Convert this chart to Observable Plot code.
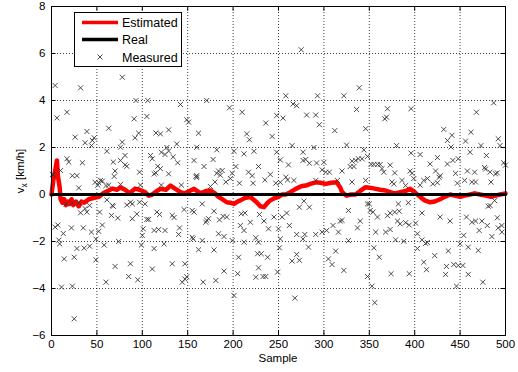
<!DOCTYPE html>
<html><head><meta charset="utf-8">
<script src="https://cdn.jsdelivr.net/npm/d3@7"></script>
<script src="https://cdn.jsdelivr.net/npm/@observablehq/plot@0.6"></script>
<style>body{margin:0;background:#fff} #chart svg{display:block}</style>
</head><body><div id="chart"></div>
<script>
// Measured samples (x = sample index, y = v_x in km/h)
const measuredX = [1,2,4,4,6,7,8,9,10,11,13,14,16,17,17,19,22,23,23,23,25,25,26,28,28,30,30,32,32,34,35,36,37,37,39,39,42,42,44,44,45,47,48,49,49,51,52,52,53,54,56,56,58,60,60,61,61,63,63,66,67,68,68,69,70,70,73,74,76,76,76,78,78,81,81,83,83,85,87,87,89,89,91,92,93,94,95,96,97,97,98,99,100,101,103,105,105,106,107,109,111,111,113,113,113,115,115,116,117,118,119,120,120,121,121,124,125,125,127,129,129,129,133,133,134,135,138,139,140,141,142,143,144,146,147,147,149,149,151,155,155,156,157,157,159,160,160,160,162,162,166,166,167,168,170,171,171,173,175,178,179,179,180,181,182,182,184,184,185,186,188,189,190,190,192,193,196,197,199,199,201,201,203,205,206,207,208,209,210,212,212,212,213,215,217,218,219,221,222,223,225,225,227,228,228,228,229,231,233,234,235,236,236,238,239,241,243,245,247,248,248,249,250,251,252,252,252,254,255,258,258,259,260,261,262,265,265,266,267,268,270,270,270,273,273,275,277,277,277,278,279,280,281,283,284,284,289,291,291,291,292,293,295,298,298,300,302,303,305,306,309,310,312,313,315,316,318,320,320,322,322,325,327,327,329,331,331,333,335,336,337,338,339,340,342,344,346,346,348,348,348,350,351,352,353,354,355,355,356,357,359,359,361,362,364,366,367,368,369,370,370,373,373,373,374,375,377,378,378,379,380,381,382,383,384,386,388,390,390,393,394,394,395,396,396,397,399,401,403,403,406,406,408,408,410,410,412,413,414,414,417,420,422,423,425,425,427,428,428,432,434,435,436,436,437,439,440,441,442,443,445,446,447,448,448,450,453,454,455,456,457,458,459,459,461,462,463,463,466,467,467,468,470,471,473,474,475,477,478,479,480,481,483,483,484,485,487,488,489,491,491,492,492,494,496,496,498,500];
const measuredY = [0.85,0.85,4.64,-1.39,3.26,-1.3,-1.94,-2.1,1.02,-3.94,-1.66,-2.74,-0.4,3.5,1.52,1.38,-1.42,0.8,-3.9,-0.37,-2.67,-5.29,2.44,0.8,-2.3,-0.35,0.28,4.54,-0.78,1.35,-1.42,-2.28,2.2,-0.6,2.68,-0.75,-2.2,-0.47,2.08,-1.6,2.3,2.41,0.52,-1.9,-2.78,0.4,0.5,-1.57,-0.75,0.6,-1.3,0.57,-2.15,0.38,-3.73,1.84,-0.23,2.82,0.4,-0.89,-0.47,1.38,-0.5,0.77,1.0,-3.06,-1.0,-2.0,1.45,2.01,0.43,4.99,2.23,1.66,1.26,1.2,-0.45,-3.49,-2.95,-0.33,-1.03,-0.4,3.22,2.41,4.0,-0.83,-3.63,2.61,0.95,-0.33,0.4,-2.15,-1.74,-1.46,-0.4,3.32,-1.06,4.0,-1.06,1.66,1.52,-3.17,-1.53,-2.3,0.88,2.62,0.92,-0.75,1.2,-1.49,-0.85,2.58,1.1,1.8,0.4,-2.1,1.7,-1.53,2.0,2.75,1.85,0.88,-2.95,-0.89,1.6,-0.98,2.15,1.35,-1.7,-1.42,3.83,0.4,-3.73,-0.64,-2.95,-3.6,3.18,-3.5,3.08,-1.82,-0.68,-1.89,1.45,-0.75,0.77,2.01,0.8,0.72,2.61,-2.35,-1.96,-0.4,-3.73,1.19,-1.18,-1.1,4.0,-1.03,0.34,1.49,-0.71,-2.36,0.53,-3.66,1.9,0.9,1.0,-1.67,-1.08,0.82,1.02,-0.93,-1.79,-3.26,0.53,-0.96,3.69,0.68,0.9,-1.96,1.84,-4.3,1.19,-3.37,-2.67,0.48,-1.32,-0.82,3.5,1.73,-1.53,-2.03,-0.79,2.58,0.95,2.33,-1.18,0.8,0.48,1.84,-1.84,-3.52,-2.52,1.19,-2.03,-3.12,-0.85,-2.52,-3.49,-1.13,0.62,3.04,-3.49,-2.67,-1.46,0.85,2.47,-0.96,0.48,3.36,1.8,-3.3,-1.46,-2.27,1.47,0.52,-1.89,-0.96,3.25,4.2,0.74,-0.79,0.62,1.26,-1.32,2.08,-2.83,3.85,0.6,-4.41,3.78,-1.7,-2.55,-0.54,-2.8,6.16,1.8,1.45,-1.89,-0.28,-1.7,1.49,3.38,-2.24,1.33,-0.54,2.0,3.38,-1.7,0.6,1.34,4.2,2.97,1.05,-1.6,1.37,0.95,-1.53,-2.74,0.95,-2.98,-1.32,2.72,-2.41,0.6,-1.6,-1.13,1.0,-1.1,4.2,-3.23,2.1,-0.68,-1.96,1.19,1.42,0.53,1.19,1.45,3.62,-1.42,1.52,4.54,-1.13,1.52,1.9,2.8,0.6,1.62,-0.4,-3.49,-0.4,-0.68,1.28,-3.9,-0.75,1.28,-2.27,-4.6,-1.6,1.28,-0.96,-2.67,1.28,1.1,0.95,3.22,-1.6,3.29,3.65,-0.9,1.25,-1.49,-0.79,-3.37,0.53,0.45,0.92,-0.75,-1.93,2.08,-1.13,-0.4,-0.71,-1.25,0.6,-1.99,0.38,-1.2,-0.35,-1.3,-3.37,1.0,3.65,1.76,0.9,0.68,-1.22,-1.67,-2.3,1.7,0.4,-0.79,-1.93,0.6,-2.88,-2.08,-3.2,0.68,-2.04,1.3,0.45,-2.6,1.0,1.57,0.5,0.73,0.8,-0.96,2.77,-3.4,-3.06,2.3,1.3,-2.4,-1.13,2.02,2.52,1.45,-2.98,0.9,-3.9,0.48,1.52,-3.02,-2.1,-3.02,-1.74,0.6,2.27,-0.96,1.0,-2.24,-3.4,1.8,2.65,0.53,-1.18,0.95,0.53,-1.13,3.5,-2.38,-1.53,2.08,-1.13,-3.73,1.15,1.08,1.66,-1.32,-0.5,0.95,-0.47,0.53,-1.79,3.9,-0.26,0.88,0.92,-0.99,2.37,-1.42,2.08,-1.32,-1.6,1.35,1.25];

// Estimated signal
const estimatedX = [0,2,4,6,7,9,10,12,14,16,18,20,22,24,27,30,33,36,41,46,52,57,62,67,72,76,81,86,92,97,103,107,111,116,120,126,131,136,142,147,152,157,164,170,175,180,184,188,193,197,201,205,208,213,219,222,226,230,234,238,241,246,250,254,258,263,269,275,280,285,291,296,302,308,314,318,320,325,330,335,340,346,352,357,362,368,373,378,384,390,395,400,406,411,417,422,428,433,439,444,450,455,461,466,472,478,484,489,494,500];
const estimatedY = [0,0.6,1.0,1.45,0.8,0.3,-0.2,-0.35,-0.2,-0.45,-0.3,-0.4,-0.2,-0.45,-0.3,-0.5,-0.3,-0.35,-0.2,-0.15,-0.1,0.05,0.15,0.25,0.2,0.3,0.2,0.05,0.25,0.2,0.1,-0.05,0,0.15,0.24,0.2,0.38,0.25,0.1,0.05,0.15,0.24,0.05,0.15,0.17,0.05,-0.1,-0.2,-0.33,-0.35,-0.4,-0.3,-0.25,-0.15,-0.1,-0.2,-0.33,-0.5,-0.54,-0.35,-0.25,-0.15,-0.1,0,0,0.1,0.24,0.35,0.38,0.45,0.52,0.5,0.45,0.5,0.52,0.3,0.1,-0.05,0,0,0.15,0.31,0.28,0.24,0.2,0.17,0.1,0.05,0.1,0.15,0.24,0.1,-0.1,-0.25,-0.33,-0.3,-0.2,-0.1,0,-0.05,-0.1,-0.05,0,0.05,0,-0.05,-0.1,-0.05,0,0.05];

// Real signal
const realX = [0, 500];
const realY = [0, 0];

const xTicks = [0,50,100,150,200,250,300,350,400,450,500];
const yTicks = [-6,-4,-2,0,2,4,6,8];
const seriesNames = ["Estimated","Real","Measured"];
const xLabel = "Sample";

const measured = measuredX.map((x,i)=>({x, y: measuredY[i]}));
const estimated = estimatedX.map((x,i)=>({x, y: estimatedY[i]}));
const real = realX.map((x,i)=>({x, y: realY[i]}));

const xDom = [xTicks[0], xTicks[xTicks.length-1]];
const yDom = [yTicks[0], yTicks[yTicks.length-1]];
const gridStyle = {stroke:"#000", strokeOpacity:0.75, strokeDasharray:"1,2"};
const plot = Plot.plot({
  width: 518, height: 372,
  marginLeft: 51, marginRight: 13, marginTop: 6, marginBottom: 37,
  style: {fontFamily: "'Liberation Sans', Arial, sans-serif", fontSize: "11.5px", background: "#fff", color: "#000"},
  x: {domain: xDom},
  y: {domain: yDom},
  marks: [
    Plot.gridX(xTicks, gridStyle),
    Plot.gridY(yTicks, gridStyle),
    Plot.line(estimated, {x:"x", y:"y", stroke:"#ff0000", strokeWidth:4.5, strokeLinejoin:"round"}),
    Plot.line(real, {x:"x", y:"y", stroke:"#000", strokeWidth:3}),
    Plot.dot(measured, {x:"x", y:"y", symbol:"times", r:2.4, stroke:"#383838", strokeWidth:0.9}),
    Plot.axisX(xTicks, {anchor:"bottom", tickSize:0, tickPadding:4, label:null}),
    Plot.axisY(yTicks, {anchor:"left", tickSize:0, tickPadding:6, label:null}),
    // inward tick marks on all four sides
    Plot.ruleX(xTicks, {x: d=>d, y1: yDom[0], y2: yDom[0] + 0.2, stroke:"#000"}),
    Plot.ruleX(xTicks, {x: d=>d, y1: yDom[1], y2: yDom[1] - 0.2, stroke:"#000"}),
    Plot.ruleY(yTicks, {y: d=>d, x1: xDom[0], x2: xDom[0] + 5, stroke:"#000"}),
    Plot.ruleY(yTicks, {y: d=>d, x1: xDom[1], x2: xDom[1] - 5, stroke:"#000"}),
    Plot.frame({stroke:"#000", strokeWidth:1})
  ]
});

const svg = d3.select(plot);
const font = "'Liberation Sans', Arial, sans-serif";
// axis labels
svg.append("text").attr("x", 278).attr("y", 362).attr("text-anchor","middle")
  .style("font-family", font).style("font-size","11.5px").text(xLabel);
const yl = svg.append("text").attr("transform","translate(24,171) rotate(-90)").attr("text-anchor","middle")
  .style("font-family", font).style("font-size","11.5px");
yl.append("tspan").text("v");
yl.append("tspan").attr("dy", 3).style("font-size","8.5px").text("x");
yl.append("tspan").attr("dy", -3).text(" [km/h]");

// legend
const lg = svg.append("g");
lg.append("rect").attr("x",74.5).attr("y",12.5).attr("width",107).attr("height",54)
  .style("fill","#fff").style("stroke","#000").style("stroke-width","1px");
lg.append("line").attr("x1",82).attr("x2",118).attr("y1",22.5).attr("y2",22.5).style("stroke","#ff0000").style("stroke-width","3.5px");
lg.append("line").attr("x1",82).attr("x2",118).attr("y1",39.5).attr("y2",39.5).style("stroke","#000").style("stroke-width","3.5px");
lg.append("path").attr("transform","translate(100,57)").attr("d", d3.symbol(d3.symbolTimes, Math.PI*2.4*2.4)())
  .style("fill","none").style("stroke","#383838").style("stroke-width","0.9px");
seriesNames.forEach((name,i)=>{
  lg.append("text").attr("x",122).attr("y",[23,40,57.5][i]).attr("dy","0.35em")
    .attr("text-anchor","start").style("text-anchor","start")
    .style("font-family", font).style("font-size","12.5px").style("fill","#000").text(name);
});

document.getElementById("chart").appendChild(plot);
</script>
</body></html>
